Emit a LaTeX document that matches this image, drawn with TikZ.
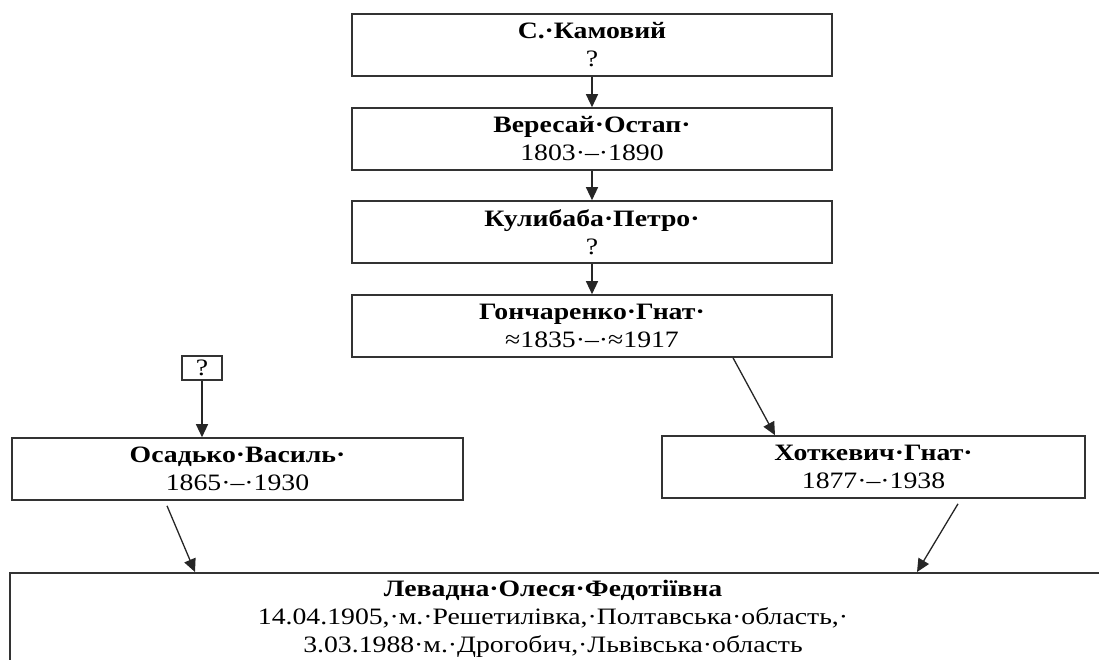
\documentclass[tikz,border=0pt]{standalone}
\usepackage{fontspec}
\setmainfont{Liberation Serif}[FakeStretch=1.18]
\usetikzlibrary{arrows.meta,calc}
\tikzset{
  pbox/.style={draw=black!80, line width=1.6pt, rectangle, inner sep=0pt, align=center,
    font=\fontsize{23.5}{28}\selectfont},
  conn/.style={draw=black!85, line width=1.3pt, -{Triangle[length=13pt,width=12pt]}},
}
\begin{document}
\begin{tikzpicture}[x=1pt,y=-1pt]
\useasboundingbox (0,0) rectangle (1099,659);
\node[pbox, minimum width=480, minimum height=62] (k) at (592,45) {\textbf{С.·Камовий}\\?};
\node[pbox, minimum width=480, minimum height=62] (v) at (592,139) {\textbf{Вересай·Остап·}\\1803·–·1890};
\node[pbox, minimum width=480, minimum height=62] (p) at (592,232) {\textbf{Кулибаба·Петро·}\\?};
\node[pbox, minimum width=480, minimum height=62] (g) at (592,326) {\textbf{Гончаренко·Гнат·}\\≈1835·–·≈1917};
\node[pbox, minimum width=40, minimum height=24, line width=1.3pt] (q) at (202,368) {?};
\node[pbox, minimum width=451, minimum height=62] (o) at (237.5,469) {\textbf{Осадько·Василь·}\\1865·–·1930};
\node[pbox, minimum width=423, minimum height=62] (h) at (873.5,467) {\textbf{Хоткевич·Гнат·}\\1877·–·1938};
\node[pbox, minimum width=1101, minimum height=130, anchor=north west] (lev) at (9,572) {};
\node[anchor=north, inner sep=0pt, align=center, font=\fontsize{23.5}{28}\selectfont] (levt) at (553,580)
  {\textbf{Левадна·Олеся·Федотіївна}\\14.04.1905,·м.·Решетилівка,·Полтавська·область,·\\3.03.1988·м.·Дрогобич,·Львівська·область};
\draw[conn] (k.south) -- (v.north);
\draw[conn] (v.south) -- (p.north);
\draw[conn] (p.south) -- (g.north);
\draw[conn] (q.south) -- (q.south |- o.north);
\draw[conn] ([xshift=141pt]g.south) -- ([xshift=-98.5pt]h.north);
\draw[conn] ([xshift=-70.5pt,yshift=-5pt]o.south) -- ([xshift=186pt]lev.north west);
\draw[conn] ([xshift=84.5pt,yshift=-5pt]h.south) -- ([xshift=908pt]lev.north west);
\end{tikzpicture}
\end{document}
